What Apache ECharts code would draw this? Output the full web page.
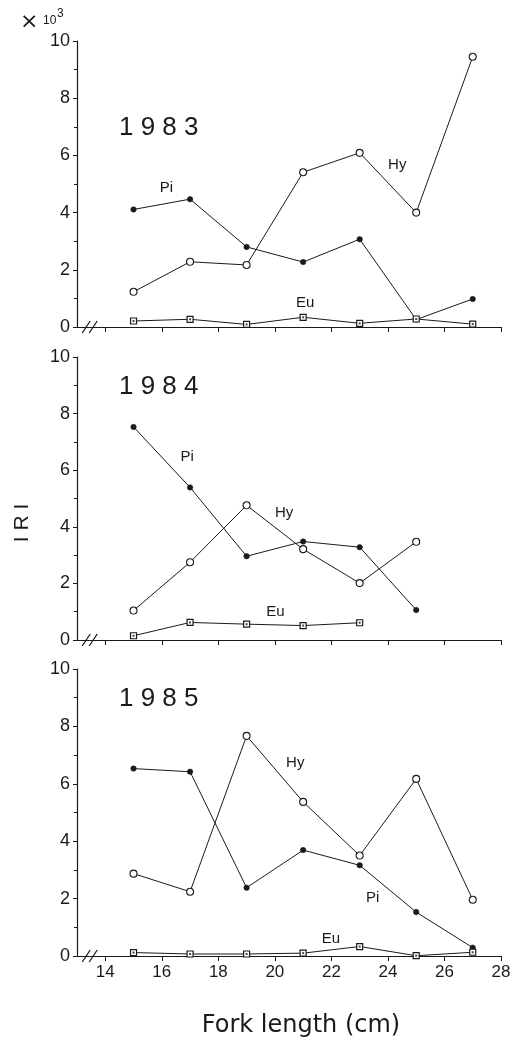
<!DOCTYPE html>
<html>
<head>
<meta charset="utf-8">
<script src="https://cdn.jsdelivr.net/npm/echarts@6/dist/echarts.min.js"></script>
<style>
  html, body { margin: 0; padding: 0; background: #fff; }
  #chart { width: 529px; height: 1040px; }
</style>
</head>
<body>
<div id="chart"></div>
<script>
// Fork length classes (cm) and axis ticks
const forkLengths = [15, 17, 19, 21, 23, 25, 27];
const xTicks = [14, 16, 18, 20, 22, 24, 26, 28];
const yearLabels = ['1 9 8 3', '1 9 8 4', '1 9 8 5'];

// IRI values (x 10^3) per prey group
const hy1983 = [1.23, 2.28, 2.17, 5.41, 6.09, 4.00, 9.45];
const pi1983 = [4.11, 4.47, 2.80, 2.27, 3.07, 0.26, 0.98];
const eu1983 = [0.21, 0.27, 0.09, 0.34, 0.13, 0.28, 0.10];

const hy1984 = [1.04, 2.75, 4.76, 3.21, 2.01, 3.47];
const pi1984 = [7.53, 5.39, 2.96, 3.48, 3.28, 1.06];
const eu1984 = [0.15, 0.62, 0.56, 0.51, 0.61];

const hy1985 = [2.87, 2.24, 7.67, 5.37, 3.50, 6.17, 1.96];
const pi1985 = [6.53, 6.42, 2.38, 3.69, 3.16, 1.53, 0.29];
const eu1985 = [0.12, 0.07, 0.07, 0.10, 0.33, 0.01, 0.13];

// Where each group's tag sits, in data units [fork length, IRI]
const tags1983 = { Hy: [24.33, 5.66], Pi: [16.16, 4.86], Eu: [21.07, 0.84] };
const tags1984 = { Hy: [20.33, 4.48], Pi: [16.90, 6.46], Eu: [20.02, 0.99] };
const tags1985 = { Hy: [20.72, 6.72], Pi: [23.46, 2.02], Eu: [21.98, 0.59] };

const panels = [
  { hy: hy1983, pi: pi1983, eu: eu1983, tags: tags1983 },
  { hy: hy1984, pi: pi1984, eu: eu1984, tags: tags1984 },
  { hy: hy1985, pi: pi1985, eu: eu1985, tags: tags1985 }
];

const INK = '#1a1a1a';
const NARROW = "'Liberation Sans Narrow', 'Arial Narrow', 'Liberation Sans', sans-serif";
const SANS = "'Liberation Sans', Arial, sans-serif";

const gridBoxes = [
  { top: 41, height: 286 },
  { top: 357, height: 283 },
  { top: 669, height: 287 }
];

function pairs(values) {
  return values.map((v, i) => [forkLengths[i], v]);
}

const grids = gridBoxes.map(b => ({ left: 77, right: 28, top: b.top, height: b.height }));

const xAxes = gridBoxes.map((b, i) => ({
  type: 'value', gridIndex: i, min: 13, max: 28,
  axisLine: { show: true, lineStyle: { color: INK, width: 1.2 } },
  axisTick: { show: true, customValues: xTicks, length: 5, inside: false, lineStyle: { color: INK } },
  axisLabel: {
    show: i === 2, customValues: xTicks, color: INK,
    fontFamily: NARROW, fontSize: 17, margin: 8
  },
  splitLine: { show: false }
}));

const yAxes = gridBoxes.map((b, i) => ({
  type: 'value', gridIndex: i, min: 0, max: 10, interval: 2,
  axisLine: { show: true, lineStyle: { color: INK, width: 1.2 } },
  axisTick: { show: true, length: 4, lineStyle: { color: INK } },
  minorTick: { show: true, splitNumber: 2, length: 3, lineStyle: { color: INK } },
  axisLabel: { color: INK, fontFamily: NARROW, fontSize: 18, margin: 7 },
  splitLine: { show: false }
}));

function tagPoints(tags) {
  return Object.keys(tags).map(k => ({ name: k, coord: tags[k] }));
}

const series = [];
panels.forEach((p, i) => {
  const base = {
    type: 'line', xAxisIndex: i, yAxisIndex: i,
    lineStyle: { color: INK, width: 1 },
    silent: true, z: 3
  };
  series.push(Object.assign({}, base, {
    name: 'Hy ' + i, data: pairs(p.hy), symbol: 'circle', symbolSize: 7,
    itemStyle: { color: '#fff', borderColor: INK, borderWidth: 1.1 },
    markPoint: {
      symbol: 'circle', symbolSize: 1, silent: true,
      itemStyle: { color: 'rgba(0,0,0,0)' },
      label: { show: true, position: 'inside', formatter: '{b}', color: INK, fontFamily: SANS, fontSize: 15 },
      data: tagPoints(p.tags)
    }
  }));
  series.push(Object.assign({}, base, {
    name: 'Pi ' + i, data: pairs(p.pi), symbol: 'circle', symbolSize: 5.5,
    itemStyle: { color: INK, borderColor: INK, borderWidth: 0.5 }
  }));
  series.push(Object.assign({}, base, {
    name: 'Eu ' + i, data: pairs(p.eu), symbol: 'rect', symbolSize: 6,
    itemStyle: { color: '#fff', borderColor: INK, borderWidth: 1.2 }
  }));
  // dot in the middle of each square marker
  series.push({
    type: 'scatter', xAxisIndex: i, yAxisIndex: i, data: pairs(p.eu),
    symbol: 'rect', symbolSize: 2, itemStyle: { color: INK }, silent: true, z: 4
  });
});

const chart = echarts.init(document.getElementById('chart'), null, { renderer: 'canvas' });
chart.setOption({
  animation: false,
  backgroundColor: '#fff',
  grid: grids,
  xAxis: xAxes,
  yAxis: yAxes,
  series: series
});

// Year captions, scale note, axis names and the axis-break slashes
const extras = [];
const yearTops = [115, 374, 686];
yearLabels.forEach((t, i) => {
  extras.push({
    type: 'text', left: 119, top: yearTops[i],
    style: { text: t, fill: INK, font: "26px 'Liberation Sans', Arial, sans-serif" }
  });
});
// scale multiplier above the top panel
extras.push({
  type: 'text', x: 20, y: 22,
  style: { text: '×', fill: INK, font: "22px 'DejaVu Sans', sans-serif", verticalAlign: 'middle' }
});
extras.push({
  type: 'text', x: 43, y: 21,
  style: { text: '10', fill: INK, font: "12px 'Liberation Sans Narrow', 'Liberation Sans', sans-serif", verticalAlign: 'middle' }
});
extras.push({
  type: 'text', x: 57, y: 14,
  style: { text: '3', fill: INK, font: "12px 'Liberation Sans', Arial, sans-serif", verticalAlign: 'middle' }
});
extras.push({
  type: 'text', x: 22, y: 523, rotation: Math.PI / 2,
  style: {
    text: 'I R I', fill: INK, font: "21px 'Liberation Sans', Arial, sans-serif",
    align: 'center', verticalAlign: 'middle'
  }
});
extras.push({
  type: 'text', x: 301, y: 1026,
  style: {
    text: 'Fork length (cm)', fill: INK, font: "24px 'DejaVu Sans', sans-serif",
    align: 'center', verticalAlign: 'middle'
  }
});
for (let i = 0; i < 3; i++) {
  const p = chart.convertToPixel({ gridIndex: i }, [13.45, 0]);
  [-3.5, 3.5].forEach(dx => {
    extras.push({
      type: 'line', silent: true,
      shape: { x1: p[0] + dx - 4, y1: p[1] + 6, x2: p[0] + dx + 4, y2: p[1] - 6 },
      style: { stroke: INK, lineWidth: 1.3 }
    });
  });
}
chart.setOption({ graphic: extras });
</script>
</body>
</html>
